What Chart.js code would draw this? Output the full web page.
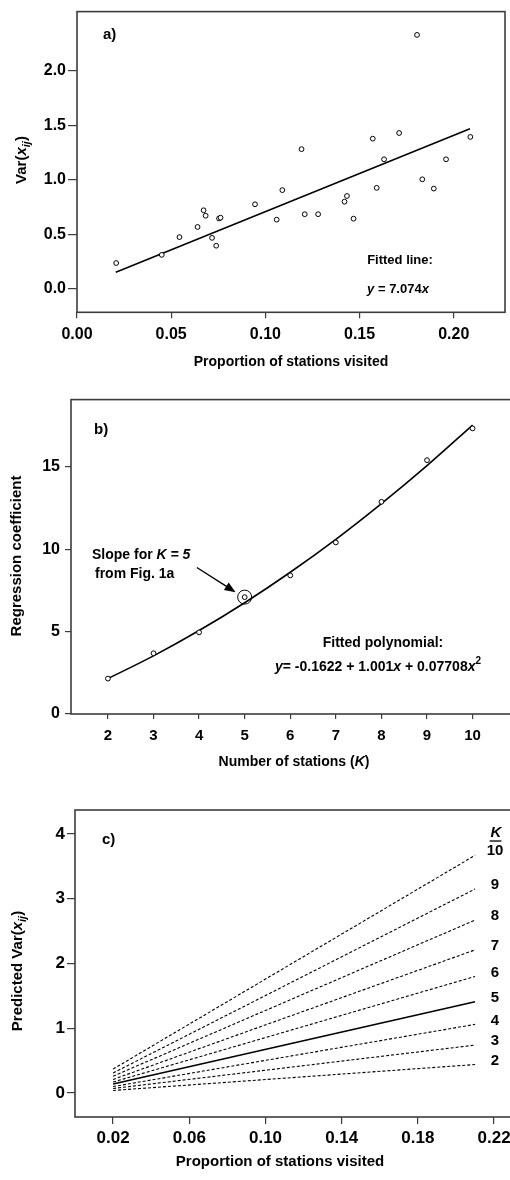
<!DOCTYPE html>
<html lang="en">
<head>
<meta charset="UTF-8" />
<title>Var(x_ij) against proportion of stations visited</title>
<script src="https://cdn.jsdelivr.net/npm/chart.js@4.4.0/dist/chart.umd.min.js"></script>
<style>
  html,body{margin:0;width:510px;height:1180px;overflow:hidden;background:#fff}
  canvas{position:absolute;left:0}
  #ca{top:0}#cb{top:385px}#cc{top:790px}
</style>
</head>
<body>
<canvas id="ca" width="510" height="380"></canvas>
<canvas id="cb" width="520" height="395"></canvas>
<canvas id="cc" width="520" height="390"></canvas>
<script>
/* ---------- data ---------- */
// a) variance vs proportion of stations visited, K = 5
const A_PROP = [0.0208,0.045,0.0544,0.064,0.0672,0.0683,0.0717,0.0739,0.0754,0.0762,0.0945,0.106,0.109,0.1192,
                0.1209,0.128,0.142,0.1433,0.1468,0.157,0.1591,0.163,0.171,0.1805,0.1833,0.1894,0.1959,0.2088];
const A_VAR  = [0.235,0.31,0.473,0.566,0.719,0.669,0.466,0.394,0.644,0.651,0.774,0.633,0.904,1.28,
                0.683,0.683,0.798,0.85,0.642,1.376,0.925,1.187,1.428,2.328,1.003,0.918,1.187,1.392];
const A_FIT_X = [0.0206,0.2086];
const A_FIT_Y = [0.150,1.467];
const A_XTICKS = [0,0.05,0.10,0.15,0.20], A_XLABELS = ['0.00','0.05','0.10','0.15','0.20'];
const A_YTICKS = [0,0.5,1.0,1.5,2.0],     A_YLABELS = ['0.0','0.5','1.0','1.5','2.0'];

// b) regression coefficient vs number of stations
const B_K    = [2,3,4,5,6,7,8,9,10];
const B_COEF = [2.15,3.69,4.96,7.1,8.42,10.42,12.89,15.42,17.35];
const B_FIT  = [2.15,3.53,5.07,6.76,8.61,10.61,12.78,15.09,17.55];
const B_XTICKS = [2,3,4,5,6,7,8,9,10];
const B_YTICKS = [0,5,10,15];

// c) predicted variance lines for each K
const C_PROP  = [0.02,0.21];
const C_K     = [10,9,8,7,6,5,4,3,2];
const C_START = [0.37,0.31,0.26,0.21,0.17,0.14,0.10,0.07,0.04];
const C_END   = [3.67,3.15,2.67,2.21,1.80,1.41,1.06,0.74,0.44];
const C_XTICKS = [0.02,0.06,0.10,0.14,0.18,0.22], C_XLABELS = ['0.02','0.06','0.10','0.14','0.18','0.22'];
const C_YTICKS = [0,1,2,3,4];

/* ---------- helpers ---------- */
const FONT = "'Liberation Sans', Arial, Helvetica, sans-serif";

function rich(ctx, parts, x, y, size, align){
  // parts: [text, flags]  i = italic, b = subscript, p = superscript
  const f = fl => `${fl.includes('i')?'italic ':''}bold ${(fl.includes('b')||fl.includes('p'))?Math.round(size*0.72):size}px ${FONT}`;
  ctx.save(); ctx.textBaseline='middle'; ctx.textAlign='left'; ctx.fillStyle='#000';
  let w=0; parts.forEach(([t,fl=''])=>{ctx.font=f(fl); w+=ctx.measureText(t).width;});
  let cx = align==='center'? x-w/2 : align==='right'? x-w : x;
  parts.forEach(([t,fl=''])=>{
    ctx.font=f(fl);
    const dy = fl.includes('b')? size*0.32 : fl.includes('p')? -size*0.38 : 0;
    ctx.fillText(t,cx,y+dy); cx+=ctx.measureText(t).width;
  });
  ctx.restore();
  return w;
}
function richRot(ctx, parts, x, y, size){
  ctx.save(); ctx.translate(x,y); ctx.rotate(-Math.PI/2); rich(ctx,parts,0,0,size,'center'); ctx.restore();
}
function frame(c){
  const a=c.chartArea, ctx=c.ctx;
  ctx.save(); ctx.strokeStyle='#3c3c3c'; ctx.lineWidth=1.6;
  ctx.strokeRect(a.left,a.top,a.right-a.left,a.bottom-a.top); ctx.restore();
}

// one linear axis with fixed ticks and a fixed thickness
function axis(min,max,ticks,labels,o){
  return {
    type:'linear', min, max,
    afterBuildTicks:s=>{s.ticks=ticks.map(v=>({value:v}));},
    afterFit:s=>{ if(o.w!=null) s.width=o.w; if(o.h!=null) s.height=o.h; },
    ticks:{callback:(v,i)=>labels[i], color:'#000', padding:o.pad, maxRotation:0, autoSkip:false,
      font:{family:FONT, size:o.size, weight:'bold'}},
    grid:{drawOnChartArea:false, drawTicks:true, tickLength:o.tl, color:'#3c3c3c', lineWidth:1.2},
    border:{display:false}
  };
}
const base = {responsive:false, animation:false, events:[], plugins:{legend:{display:false}, tooltip:{enabled:false}}};

/* ---------- a) ---------- */
new Chart(document.getElementById('ca'),{
  type:'scatter',
  data:{datasets:[
    {data:A_PROP.map((x,i)=>({x,y:A_VAR[i]})), pointRadius:2.4, pointBorderWidth:1, pointBorderColor:'#000',
     pointBackgroundColor:'#fff', showLine:false},
    {data:A_FIT_X.map((x,i)=>({x,y:A_FIT_Y[i]})), showLine:true, borderColor:'#000', borderWidth:1.5, pointRadius:0}
  ]},
  options:{...base, layout:{padding:{top:7,right:3.3,left:0,bottom:0}},
    scales:{
      x:axis(0,0.2272,A_XTICKS,A_XLABELS,{h:67.7,pad:7,tl:6,size:16}),
      y:axis(-0.217,2.542,A_YTICKS,A_YLABELS,{w:77,pad:2,tl:9,size:16})
    }},
  plugins:[{id:'decoA',afterDraw:c=>{
    frame(c); const ctx=c.ctx;
    rich(ctx,[['a)']],103,35,15,'left');
    rich(ctx,[['Fitted line:']],400,260,13,'center');
    rich(ctx,[['y','i'],[' = 7.074'],['x','i']],398,289,13,'center');
    richRot(ctx,[['Var('],['x','i'],['ij','ib'],[')']],22,160,15);
    rich(ctx,[['Proportion of stations visited']],291,362,14,'center');
  }}]
});

/* ---------- b) ---------- */
new Chart(document.getElementById('cb'),{
  type:'scatter',
  data:{datasets:[
    {data:B_K.map((x,i)=>({x,y:B_COEF[i]})), pointRadius:2.4, pointBorderWidth:1, pointBorderColor:'#000',
     pointBackgroundColor:'#fff', showLine:false},
    {data:B_K.map((x,i)=>({x,y:B_FIT[i]})), showLine:true, borderColor:'#000', borderWidth:1.6, pointRadius:0,
     cubicInterpolationMode:'monotone'}
  ]},
  options:{...base, layout:{padding:{top:13,right:0,left:0,bottom:0}},
    scales:{
      x:axis(1.19,10.93,B_XTICKS,B_XTICKS.map(String),{h:66,pad:8,tl:5,size:15}),
      y:axis(0,19.1,B_YTICKS,B_YTICKS.map(String),{w:71,pad:5,tl:6,size:16})
    }},
  plugins:[{id:'decoB',afterDraw:c=>{
    frame(c); const ctx=c.ctx, xs=c.scales.x, ys=c.scales.y;
    rich(ctx,[['b)']],94,45,15,'left');
    rich(ctx,[['Slope for '],['K = 5','i']],92,170,14,'left');
    rich(ctx,[['from Fig. 1a']],95,189,14,'left');
    // circle around K = 5
    const px=xs.getPixelForValue(B_K[3]), py=ys.getPixelForValue(B_COEF[3]);
    ctx.save(); ctx.strokeStyle='#000'; ctx.lineWidth=1;
    ctx.beginPath(); ctx.arc(px,py,7,0,Math.PI*2); ctx.stroke();
    // arrow
    const x0=xs.getPixelForValue(3.95), y0=ys.getPixelForValue(8.9),
          x1=xs.getPixelForValue(4.8), y1=ys.getPixelForValue(7.4);
    const ang=Math.atan2(y1-y0,x1-x0);
    ctx.lineWidth=1.4; ctx.beginPath(); ctx.moveTo(x0,y0); ctx.lineTo(x1-8*Math.cos(ang),y1-8*Math.sin(ang)); ctx.stroke();
    ctx.beginPath(); ctx.moveTo(x1,y1);
    ctx.lineTo(x1-11*Math.cos(ang)+4.5*Math.sin(ang), y1-11*Math.sin(ang)-4.5*Math.cos(ang));
    ctx.lineTo(x1-11*Math.cos(ang)-4.5*Math.sin(ang), y1-11*Math.sin(ang)+4.5*Math.cos(ang));
    ctx.closePath(); ctx.fillStyle='#000'; ctx.fill(); ctx.restore();
    rich(ctx,[['Fitted polynomial:']],383,258,14,'center');
    rich(ctx,[['y','i'],['= -0.1622 + 1.001'],['x','i'],[' + 0.07708'],['x','i'],['2','p']],378,282,14,'center');
    richRot(ctx,[['Regression coefficient']],17,171,15);
    rich(ctx,[['Number of stations ('],['K','i'],[')']],294,377,14,'center');
  }}]
});

/* ---------- c) ---------- */
new Chart(document.getElementById('cc'),{
  type:'scatter',
  data:{datasets:C_K.map((k,i)=>({
    data:C_PROP.map((x,j)=>({x,y:j===0?C_START[i]:C_END[i]})),
    showLine:true, borderColor:'#000', pointRadius:0,
    borderWidth:k===5?1.7:1.1, borderDash:k===5?[]:[3,2]
  }))},
  options:{...base, layout:{padding:{top:20,right:0,left:0,bottom:0}},
    scales:{
      x:axis(0,0.2336,C_XTICKS,C_XLABELS,{h:63,pad:4,tl:7,size:17}),
      y:axis(-0.37,4.37,C_YTICKS,C_YTICKS.map(String),{w:75,pad:2,tl:8,size:17})
    }},
  plugins:[{id:'decoC',afterDraw:c=>{
    frame(c); const ctx=c.ctx, ys=c.scales.y;
    rich(ctx,[['c)']],102,50,15,'left');
    const w=rich(ctx,[['K','i']],496,43,15,'center');
    ctx.save(); ctx.strokeStyle='#000'; ctx.lineWidth=1.3;
    ctx.beginPath(); ctx.moveTo(496-w/2-1,51); ctx.lineTo(496+w/2,51); ctx.stroke(); ctx.restore();
    C_K.forEach((k,i)=>rich(ctx,[[String(k)]],495,ys.getPixelForValue(C_END[i])-4,15,'center'));
    richRot(ctx,[['Predicted Var('],['x','i'],['ij','ib'],[')']],18,181,15);
    rich(ctx,[['Proportion of stations visited']],280,372,15,'center');
  }}]
});
</script>
</body>
</html>
